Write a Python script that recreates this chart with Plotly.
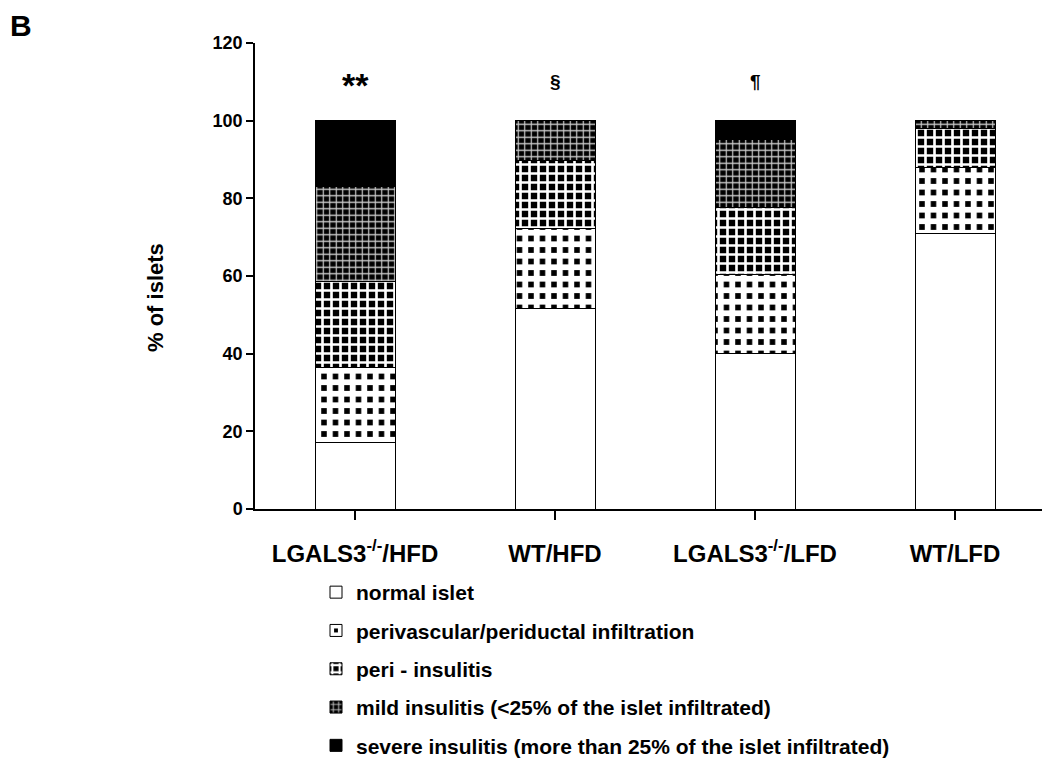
import plotly.graph_objects as go

# ---- data ----
groups = ["LGALS3<sup>-/-</sup>/HFD", "WT/HFD", "LGALS3<sup>-/-</sup>/LFD", "WT/LFD"]
normal_islet = [17.0, 51.7, 40.0, 71.0]
perivascular = [19.5, 20.6, 20.3, 17.0]
peri_insulitis = [22.0, 17.4, 17.4, 10.0]
mild_insulitis = [24.5, 10.3, 17.5, 2.0]
severe_insulitis = [17.0, 0.0, 4.8, 0.0]
significance = ["**", "§", "¶", ""]
y_ticks = [0, 20, 40, 60, 80, 100, 120]

series_names = [
    "normal islet",
    "perivascular/periductal infiltration",
    "peri - insulitis",
    "mild insulitis (<25% of the islet infiltrated)",
    "severe insulitis (more than 25% of the islet infiltrated)",
]
series_values = [normal_islet, perivascular, peri_insulitis, mild_insulitis, severe_insulitis]

FONT = "Liberation Sans, Arial, sans-serif"
x_idx = list(range(len(groups)))

styles = [
    dict(color="white"),
    dict(color="black", pattern=dict(shape="+", bgcolor="black", fgcolor="white",
                                     size=11.5, solidity=0.77, fillmode="replace")),
    dict(color="black", pattern=dict(shape="+", bgcolor="black", fgcolor="white",
                                     size=9, solidity=0.5, fillmode="replace")),
    dict(color="black", pattern=dict(shape="+", bgcolor="black", fgcolor="#cccccc",
                                     size=6.5, solidity=0.33, fillmode="replace")),
    dict(color="black"),
]

# page body adds an 8px margin; build the figure 8px smaller and shift positions
OFF = 8
W, H = 1050 - OFF, 763 - OFF
L, R, T = 255 - OFF, 0, 43 - OFF
B = H - (509 - OFF)
pw, ph = W - L - R, H - T - B


def px_x(x):
    return (x - OFF - L) / pw


def px_y(y):
    return (H - B - (y - OFF)) / ph


fig = go.Figure()
for i, (name, vals, st) in enumerate(zip(series_names, series_values, styles)):
    fig.add_trace(go.Bar(
        x=x_idx, y=vals, name=name, width=0.4,
        marker=dict(line=dict(color="black", width=1), **st),
        legendgroup=f"g{i}",
    ))

for xi, txt in zip(x_idx, significance):
    if not txt:
        continue
    big = txt == "**"
    fig.add_annotation(x=xi, y=110, xref="x", yref="y", text=txt, showarrow=False,
                       xanchor="center", yanchor="middle", yshift=-3 if big else 0,
                       font=dict(family=FONT, size=34 if big else 19,
                                 color="black", weight="bold"))

fig.add_annotation(x=px_x(21), y=px_y(25), xref="paper", yref="paper", text="B",
                   showarrow=False, xanchor="center", yanchor="middle",
                   font=dict(family=FONT, size=30, color="black", weight="bold"))

fig.add_annotation(x=px_x(155), y=px_y(298), xref="paper", yref="paper",
                   text="% of islets", textangle=-90, showarrow=False,
                   xanchor="center", yanchor="middle",
                   font=dict(family=FONT, size=22, color="black", weight="bold"))

fig.update_layout(
    width=W, height=H,
    margin=dict(l=L, r=R, t=T, b=B, pad=0, autoexpand=False),
    paper_bgcolor="white", plot_bgcolor="white",
    barmode="stack",
    font=dict(family=FONT, color="black", weight="bold"),
    showlegend=True,
    legend=dict(
        x=px_x(316), y=px_y(572), xanchor="left", yanchor="top",
        traceorder="grouped", tracegroupgap=8,
        font=dict(family=FONT, size=21, color="black", weight="bold"),
        bgcolor="rgba(0,0,0,0)", borderwidth=0,
    ),
    xaxis=dict(
        tickmode="array", tickvals=x_idx, ticktext=groups,
        range=[-0.5, -0.5 + pw / 200.0],
        showline=True, linecolor="black", linewidth=1.5,
        ticks="outside", tickson="boundaries", ticklen=9, tickwidth=1.5, tickcolor="black",
        tickfont=dict(family=FONT, size=24, color="black", weight="bold"),
        ticklabelstandoff=13,
        showgrid=False, zeroline=False,
    ),
    yaxis=dict(
        range=[0, 120], tickvals=y_ticks,
        showline=True, linecolor="black", linewidth=1.5,
        ticks="outside", ticklen=7, tickwidth=1.5, tickcolor="black",
        tickfont=dict(family=FONT, size=18, color="black", weight="bold"),
        showgrid=False, zeroline=False,
    ),
)

fig.write_html("out.html")
